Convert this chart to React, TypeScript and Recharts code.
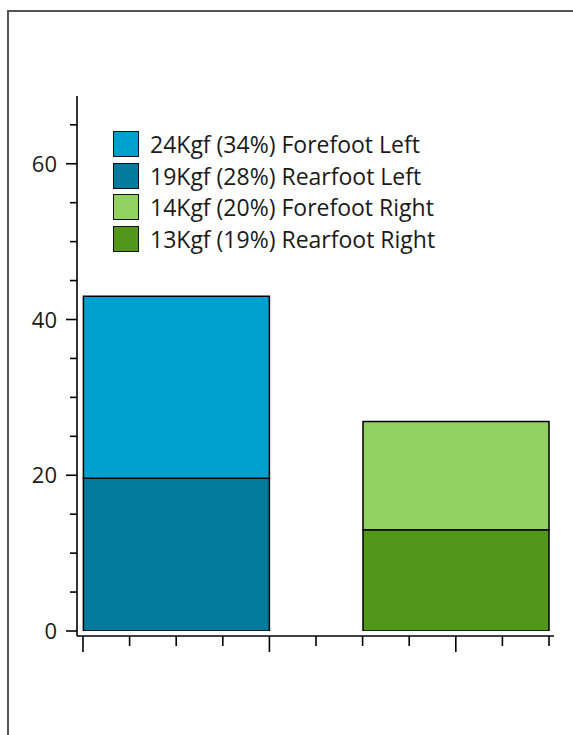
import { BarChart, Bar, XAxis, YAxis, Legend } from "recharts";

const footPositions = [0.5, 2];
const rearfootLeft = [19.6, 0];
const forefootLeft = [23.4, 0];
const rearfootRight = [0, 13.0];
const forefootRight = [0, 13.9];

const legendLabels = [
  "24Kgf (34%) Forefoot Left",
  "19Kgf (28%) Rearfoot Left",
  "14Kgf (20%) Forefoot Right",
  "13Kgf (19%) Rearfoot Right",
];
const legendColors = ["#00a0ce", "#007b9e", "#92d060", "#52961a"];

const yTicks = [0, 5, 10, 15, 20, 25, 30, 35, 40, 45, 50, 55, 60, 65];
const xTicks = [0, 0.25, 0.5, 0.75, 1, 1.25, 1.5, 1.75, 2, 2.25, 2.5];

const data = footPositions.map((pos, i) => ({
  pos,
  rearL: rearfootLeft[i],
  foreL: forefootLeft[i],
  rearR: rearfootRight[i],
  foreR: forefootRight[i],
}));

const FONT = "'Open Sans', 'Segoe UI', sans-serif";

function YTick({ x, y, payload }: any) {
  const major = payload.value % 20 === 0;
  return (
    <g>
      <line x1={x - (major ? 11 : 7)} x2={x} y1={y} y2={y} stroke="#000" strokeWidth={1.6} />
      {major && (
        <text x={x - 20} y={y} dy={8} textAnchor="end" fontSize={22} fontFamily={FONT} fill="#1a1a1a">
          {payload.value}
        </text>
      )}
    </g>
  );
}

function XTick({ x, y, payload }: any) {
  const major = Number.isInteger(payload.value);
  return <line x1={x} x2={x} y1={y} y2={y + (major ? 16 : 10)} stroke="#000" strokeWidth={1.6} />;
}

function LegendBox() {
  return (
    <div style={{ fontFamily: FONT, fontSize: 23, color: "#1a1a1a", whiteSpace: "nowrap" }}>
      {legendLabels.map((label, i) => (
        <div key={label} style={{ display: "flex", alignItems: "center", height: 31.7 }}>
          <span
            style={{
              width: 26,
              height: 26,
              flex: "none",
              boxSizing: "border-box",
              border: "1.5px solid #111",
              background: legendColors[i],
              marginRight: 11,
            }}
          />
          <span>{label}</span>
        </div>
      ))}
    </div>
  );
}

export default function App() {
  return (
    <div style={{ position: "absolute", left: 0, top: 0, width: 573, height: 735, overflow: "hidden", background: "#fff" }}>
      <div
        style={{
          position: "absolute",
          left: 7,
          top: 10,
          width: 700,
          height: 800,
          borderLeft: "2px solid #555",
          borderTop: "2px solid #555",
        }}
      />
      <div style={{ position: "absolute", left: 0, top: 0 }}>
        <BarChart width={573} height={735} data={data} margin={{ top: 96, right: 19, bottom: 79, left: 17 }}>
          <XAxis
            dataKey="pos"
            type="number"
            domain={[0, 2.5]}
            ticks={xTicks}
            interval={0}
            padding={{ left: 6, right: 5 }}
            height={20}
            tickLine={false}
            tickSize={0}
            tickMargin={0}
            tick={<XTick />}
            axisLine={{ stroke: "#000", strokeWidth: 1.6 }}
          />
          <XAxis
            xAxisId="top"
            orientation="top"
            type="number"
            domain={[0, 1]}
            height={0}
            tick={false}
            tickLine={false}
            axisLine={{ stroke: "#000", strokeWidth: 1.6 }}
          />
          <YAxis
            type="number"
            domain={[0, 68.7]}
            ticks={yTicks}
            interval={0}
            allowDataOverflow
            padding={{ top: 0, bottom: 5 }}
            width={60}
            tickLine={false}
            tickSize={0}
            tickMargin={0}
            tick={<YTick />}
            axisLine={{ stroke: "#000", strokeWidth: 1.6 }}
          />
          <YAxis
            yAxisId="right"
            orientation="right"
            type="number"
            domain={[0, 1]}
            width={0}
            tick={false}
            tickLine={false}
            axisLine={{ stroke: "#000", strokeWidth: 1.6 }}
          />
          <Legend
            layout="vertical"
            align="center"
            verticalAlign="middle"
            content={<LegendBox />}
            wrapperStyle={{ left: 113, top: 128, width: 400 }}
          />
          <Bar dataKey="rearL" stackId="s" barSize={186} fill={legendColors[1]} stroke="#000" strokeWidth={1.5} isAnimationActive={false} />
          <Bar dataKey="foreL" stackId="s" barSize={186} fill={legendColors[0]} stroke="#000" strokeWidth={1.5} isAnimationActive={false} />
          <Bar dataKey="rearR" stackId="s" barSize={186} fill={legendColors[3]} stroke="#000" strokeWidth={1.5} isAnimationActive={false} />
          <Bar dataKey="foreR" stackId="s" barSize={186} fill={legendColors[2]} stroke="#000" strokeWidth={1.5} isAnimationActive={false} />
        </BarChart>
      </div>
    </div>
  );
}
